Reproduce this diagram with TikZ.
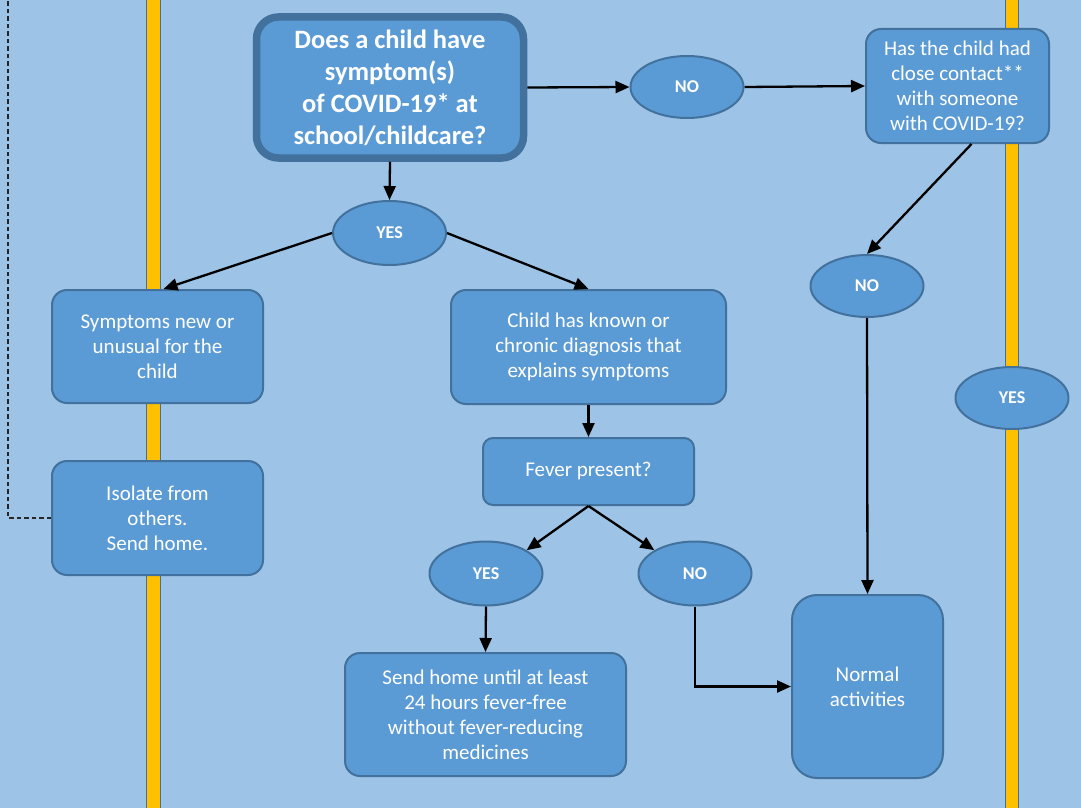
\documentclass[tikz,border=0pt]{standalone}
\usepackage{fontspec}
\setmainfont{Carlito}
\usepackage{tikz}
\usetikzlibrary{shapes.geometric,arrows.meta}
\tikzset{>={Triangle[length=14pt,width=12pt]}}
\usepackage{xcolor}
\definecolor{bgcol}{HTML}{9DC3E6}
\definecolor{boxcol}{HTML}{5B9BD5}
\definecolor{edgecol}{HTML}{41719C}
\definecolor{barcol}{HTML}{FFC000}
\colorlet{dashcol}{black!85}

\tikzset{
    box/.style={draw=edgecol, line width=2pt, fill=boxcol, rounded corners=15pt,
        text=white, align=center, inner sep=0pt, font=\fontsize{21}{25}\selectfont},
    oval/.style={ellipse, draw=edgecol, line width=2pt, fill=boxcol, inner sep=0pt,
        minimum width=113pt, minimum height=62pt, text=white,
        font=\bfseries\fontsize{18}{20}\selectfont},
    link/.style={->, line width=2.3pt},
}

\begin{document}
\begin{tikzpicture}[x=1pt, y=-1pt]
    \fill[bgcol] (0,0) rectangle (1081,808);
    \useasboundingbox (0,0) rectangle (1081,808);

    % yellow bars
    \filldraw[fill=barcol, draw=edgecol, line width=1.5pt] (146.5,-5) rectangle (160.5,813);
    \filldraw[fill=barcol, draw=edgecol, line width=1.5pt] (1005.5,-5) rectangle (1018.5,813);

    \node[box, line width=7.5pt, rounded corners=22pt, minimum width=267pt, minimum height=141pt,
        font=\bfseries\fontsize{26.5}{32}\selectfont] (q) at (390,87.5)
        {Does a child have\\symptom(s)\\of COVID-19* at\\school/childcare?};
    \node[oval] (no1) at (687,87) {NO};
    \node[box, minimum width=183pt, minimum height=114pt] (contact) at (957.5,86)
        {Has the child had\\close contact**\\with someone\\with COVID-19?};
    \node[oval] (no2) at (867,286) {NO};
    \node[oval] (yes3) at (1012,398) {YES};

    \node[oval, minimum height=64pt] (yes1) at (389.5,233) {YES};
    \node[box, minimum width=211pt, minimum height=113pt] (symp) at (157.5,346.5)
        {Symptoms new or\\unusual for the\\child};
    \node[box, minimum width=211pt, minimum height=114pt] (isolate) at (157.5,518)
        {Isolate from\\others.\\Send home.};
    \node[box, minimum width=275pt, minimum height=114pt] (child) at (588.5,347)
        {Child has known or\\chronic diagnosis that\\explains symptoms};
    \node[box, rounded corners=10pt, minimum width=211pt, minimum height=67pt] (fever) at (588.5,471.5)
        {\strut Fever present?};
    \node[oval, minimum height=64pt] (yes2) at (486,573.5) {YES};
    \node[oval, minimum height=64pt] (no3) at (695,573.5) {NO};
    \node[box, minimum width=281pt, minimum height=123pt] (sendhome) at (485.5,714.5)
        {Send home until at least\\24 hours fever-free\\without fever-reducing\\medicines};
    \node[box, rounded corners=25pt, minimum width=151pt, minimum height=183pt] (normal) at (867.5,686.5)
        {Normal\\activities};

    \coordinate (dashtop) at (8,-5);
    \draw[dashcol, line width=1.5pt, dash pattern=on 4.5pt off 3pt] (isolate.west) -| (dashtop);

    \draw[link] (q.east) -- (no1.west);
    \draw[link] (no1.east) -- (contact.west);
    \draw[link] ([xshift=14pt]contact.south) -- (no2.north);
    \draw[link] (no2.south) -- (normal.north);
    \draw[link] (q.south) -- (yes1.north);
    \draw[link] (yes1.west) -- ([xshift=6pt]symp.north);
    \draw[link] (yes1.east) -- (child.north);
    \draw[link] (child.south) -- (fever.north);
    \draw[link] (fever.south) -- (yes2.north east);
    \draw[link] (fever.south) -- (no3.north west);
    \draw[link] (yes2.south) -- (sendhome.north);
    \draw[link] (no3.south) |- (normal.west);
\end{tikzpicture}
\end{document}
